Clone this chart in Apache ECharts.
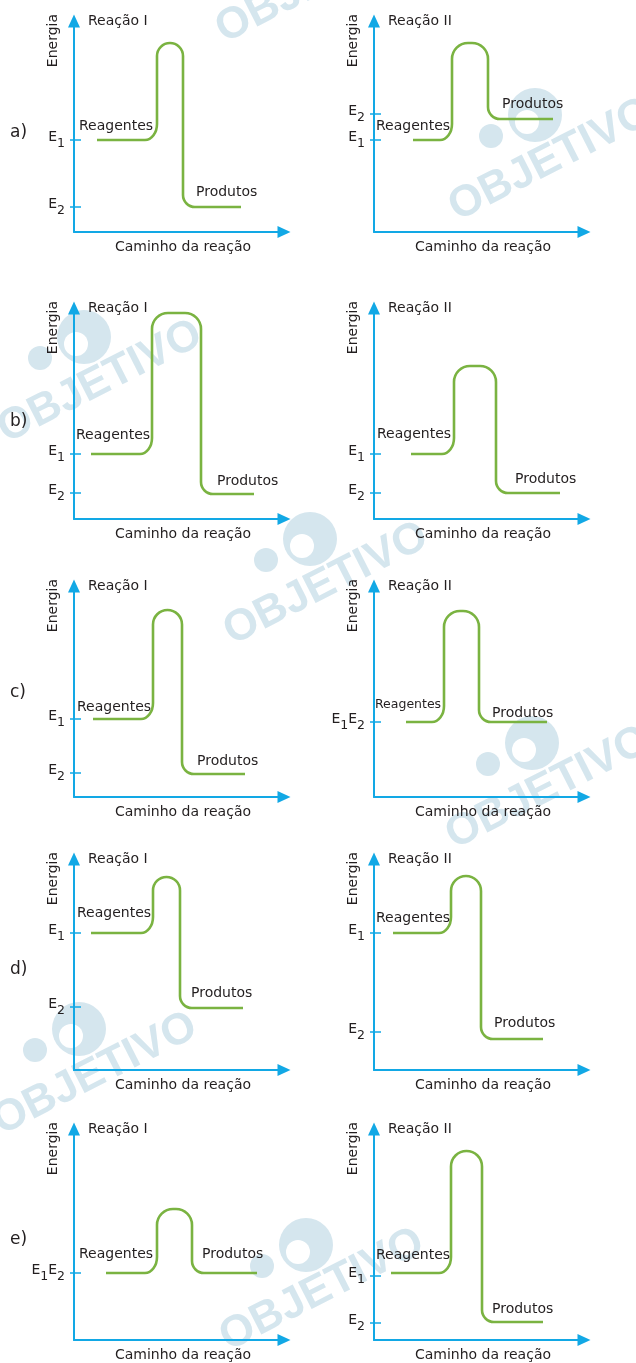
<!DOCTYPE html>
<html>
<head>
<meta charset="utf-8">
<title>Reação I / Reação II</title>
<script src="https://cdn.jsdelivr.net/npm/echarts@6/dist/echarts.min.js"></script>
<style>
  html, body { margin: 0; padding: 0; background: #fff; }
  #chart { width: 636px; height: 1363px; }
</style>
</head>
<body>
<div id="chart"></div>
<script>
// panels in reading order: a-I, a-II, b-I, b-II, c-I, c-II, d-I, d-II, e-I, e-II
// path axis runs 0..210, energy axis 0..211 (arbitrary units)
var rowLetters = ['a)', 'b)', 'c)', 'd)', 'e)']
var reactionNames = ['Reação I', 'Reação II']

// where the curve starts, rises, falls and ends along the path
var curveStart = [23, 39, 17, 37, 19, 32, 17, 19, 32, 17]
var curveRise = [83, 78, 78, 80, 79, 70, 79, 77, 83, 77]
var curveFall = [109, 114, 127, 122, 108, 105, 106, 107, 118, 108]
var curveEnd = [167, 179, 180, 186, 171, 173, 169, 169, 183, 169]

// energy levels
var reagentEnergy = [92, 92, 65, 65, 78, 75, 137, 137, 67, 67]
var peakEnergy = [189, 189, 206, 153, 187, 186, 193, 194, 131, 189]
var productEnergy = [25, 113, 25, 26, 23, 75, 62, 31, 67, 18]

// marks on the energy axis
var tickValues = [[92, 25], [92, 118], [65, 26], [65, 26], [78, 24], [75], [137, 63], [137, 38], [67], [64, 17]]
var tickLabels = [['E1', 'E2'], ['E1', 'E2'], ['E1', 'E2'], ['E1', 'E2'], ['E1', 'E2'], ['E1E2'], ['E1', 'E2'], ['E1', 'E2'], ['E1E2'], ['E1', 'E2']]

// "Reagentes" / "Produtos" annotations: [path, energy] of the label's left middle
var reagentLabelAt = [[5, 106], [2, 106], [2, 84], [3, 85], [3, 90], [1, 92], [3, 157], [2, 152], [5, 86], [2, 85]]
var productLabelAt = [[122, 40], [128, 128], [143, 38], [141, 40], [123, 36], [118, 84], [117, 77], [120, 47], [128, 86], [118, 31]]

var blue = '#12a8e5'
var green = '#7ab341'
var ink = '#231f20'
var wmColor = '#d5e6ee'
var font = 'DejaVu Sans'
var fs = 14

var rowBase = [232, 519, 797, 1070, 1340]
var colAxisX = [74, 374]
var rowLetterY = [133, 422, 693, 970, 1240]
var plotW = 210
var plotH = 211

var chartDom = document.getElementById('chart')
var myChart = echarts.init(chartDom)

function toRich (s) {
  return s.replace(/E(\d)/g, '{b|E}{s|$1}')
}

function lerp (a, b, t) {
  return [a[0] + (b[0] - a[0]) * t, a[1] + (b[1] - a[1]) * t]
}

function pt (q) {
  return q[0].toFixed(1) + ' ' + q[1].toFixed(1)
}

// rounded corner from the current point "from" through "corner" to "to"
function corner (from, c, to) {
  var k = 0.5523
  return ' C' + pt(lerp(from, c, k)) + ' ' + pt(lerp(to, c, k)) + ' ' + pt(to)
}

function curveRenderer (p) {
  return function (params, api) {
    var a = api.coord([curveStart[p], reagentEnergy[p]])
    var b = api.coord([curveRise[p], reagentEnergy[p]])
    var c = api.coord([curveRise[p], peakEnergy[p]])
    var d = api.coord([curveFall[p], peakEnergy[p]])
    var e = api.coord([curveFall[p], productEnergy[p]])
    var f = api.coord([curveEnd[p], productEnergy[p]])
    var rx = 12
    var ry = 16
    var R = Math.min(16, (d[0] - c[0]) / 2)
    var r2 = 12

    var p1 = [b[0] - rx, b[1]]
    var p2 = [b[0], b[1] - ry]
    var p3 = [c[0], c[1] + R]
    var p4 = [c[0] + R, c[1]]
    var p5 = [d[0] - R, d[1]]
    var p6 = [d[0], d[1] + R]
    var p7 = [e[0], e[1] - r2]
    var p8 = [e[0] + r2, e[1]]

    var path = 'M' + pt(a) + ' L' + pt(p1) + corner(p1, b, p2) +
      ' L' + pt(p3) + corner(p3, c, p4) +
      ' L' + pt(p5) + corner(p5, d, p6) +
      ' L' + pt(p7) + corner(p7, e, p8) +
      ' L' + pt(f)

    var ra = api.coord(reagentLabelAt[p])
    var pa = api.coord(productLabelAt[p])
    return {
      type: 'group',
      children: [
        {
          type: 'path',
          shape: { pathData: path },
          style: { stroke: green, lineWidth: 2.6, fill: 'none' }
        },
        {
          type: 'text',
          x: ra[0],
          y: ra[1],
          style: {
            text: 'Reagentes',
            fill: ink,
            font: (p === 5 ? 12.5 : fs) + 'px "' + font + '"',
            align: 'left',
            verticalAlign: 'middle'
          }
        },
        {
          type: 'text',
          x: pa[0],
          y: pa[1],
          style: {
            text: 'Produtos',
            fill: ink,
            font: fs + 'px "' + font + '"',
            align: 'left',
            verticalAlign: 'middle'
          }
        }
      ]
    }
  }
}

var grids = []
var xAxes = []
var yAxes = []
var series = []
var graphics = []

// faint OBJETIVO watermarks behind everything
var watermarks = [[318, -18], [551, 160], [100, 382], [326, 584], [548, 788], [95, 1074], [322, 1290]]
watermarks.forEach(function (w) {
  graphics.push({
    type: 'circle', z: -5, silent: true,
    shape: { cx: w[0] - 16, cy: w[1] - 45, r: 27 },
    style: { fill: wmColor }
  })
  graphics.push({
    type: 'circle', z: -4, silent: true,
    shape: { cx: w[0] - 24, cy: w[1] - 38, r: 12 },
    style: { fill: '#fff' }
  })
  graphics.push({
    type: 'circle', z: -5, silent: true,
    shape: { cx: w[0] - 60, cy: w[1] - 24, r: 12 },
    style: { fill: wmColor }
  })
  graphics.push({
    type: 'text', z: -3, silent: true,
    x: w[0], y: w[1], rotation: 0.47,
    style: {
      text: 'OBJETIVO',
      fill: wmColor,
      font: 'bold 44px "Liberation Sans"',
      align: 'center',
      verticalAlign: 'middle'
    }
  })
})

rowLetters.forEach(function (s, r) {
  graphics.push({
    type: 'text', x: 10, y: rowLetterY[r],
    style: { text: s, fill: ink, font: '17px "' + font + '"', align: 'left', verticalAlign: 'middle' }
  })
})

function addPanel (p) {
  var row = Math.floor(p / 2)
  var col = p % 2
  var plotLeft = colAxisX[col]
  var plotTop = rowBase[row] - plotH

  grids.push({ left: plotLeft, top: plotTop, width: plotW, height: plotH })

  xAxes.push({
    gridIndex: p,
    type: 'value',
    min: 0,
    max: plotW,
    axisLine: {
      show: true,
      onZero: false,
      symbol: ['none', 'triangle'],
      symbolSize: [12, 13],
      lineStyle: { color: blue, width: 2 }
    },
    axisTick: { show: false },
    axisLabel: { show: false },
    splitLine: { show: false },
    name: 'Caminho da reação',
    nameLocation: 'middle',
    nameGap: 8,
    nameTextStyle: { color: ink, fontSize: fs, fontFamily: font, padding: [0, 0, 0, 8] }
  })

  // the energy axis line with its arrow
  yAxes.push({
    gridIndex: p,
    type: 'value',
    position: 'left',
    min: 0,
    max: plotH,
    axisLine: {
      show: true,
      onZero: false,
      symbol: ['none', 'triangle'],
      symbolSize: [12, 13],
      lineStyle: { color: blue, width: 2 }
    },
    axisTick: { show: false },
    axisLabel: { show: false },
    splitLine: { show: false }
  })

  // E1 / E2 marks, shifted right so the tick crosses the axis line
  yAxes.push({
    gridIndex: p,
    type: 'value',
    position: 'left',
    offset: -7,
    min: 0,
    max: plotH,
    axisLine: { show: false },
    splitLine: { show: false },
    axisTick: {
      show: true,
      customValues: tickValues[p],
      length: 11,
      lineStyle: { color: blue, width: 1.5 }
    },
    axisLabel: {
      show: true,
      customValues: tickValues[p],
      margin: 16,
      formatter: function (v) {
        var i = tickValues[p].indexOf(v)
        return i < 0 ? '' : toRich(tickLabels[p][i])
      },
      rich: {
        b: { fontSize: fs, fontFamily: font, color: ink, verticalAlign: 'top' },
        s: { fontSize: 12.5, fontFamily: font, color: ink, verticalAlign: 'bottom', lineHeight: 20 }
      }
    }
  })

  series.push({
    type: 'custom',
    xAxisIndex: p,
    yAxisIndex: 2 * p,
    clip: false,
    silent: true,
    renderItem: curveRenderer(p),
    encode: { x: 0, y: 1 },
    data: [[curveStart[p], reagentEnergy[p]]]
  })

  graphics.push({
    type: 'text',
    x: plotLeft - 21,
    y: plotTop - 7,
    rotation: Math.PI / 2,
    style: { text: 'Energia', fill: ink, font: fs + 'px "' + font + '"', align: 'right', verticalAlign: 'middle' }
  })
  graphics.push({
    type: 'text',
    x: plotLeft + 14,
    y: plotTop,
    style: { text: reactionNames[col], fill: ink, font: fs + 'px "' + font + '"', align: 'left', verticalAlign: 'middle' }
  })
}

for (var p = 0; p < 10; p++) {
  addPanel(p)
}

var option = {
  backgroundColor: '#fff',
  animation: false,
  grid: grids,
  xAxis: xAxes,
  yAxis: yAxes,
  graphic: { elements: graphics },
  series: series
}

option && myChart.setOption(option)
</script>
</body>
</html>
